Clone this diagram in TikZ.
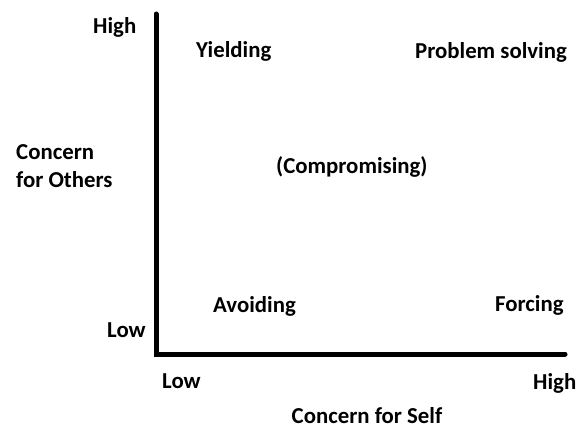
\documentclass[tikz,border=0pt]{standalone}
\usepackage{fontspec}
\setmainfont{Carlito}
\begin{document}
\begin{tikzpicture}[x=1pt,y=-1pt,
  lbl/.style={font=\fontsize{22.8}{27}\selectfont\bfseries, inner sep=0pt, anchor=base west, text=black},
  axis/.style={line width=5pt, line cap=round, line join=miter}]
\useasboundingbox (0,0) rectangle (577,428);
\coordinate (top) at (156,14);
\coordinate (origin) at (156,354);
\coordinate (right) at (565,354);
\draw[axis] (top) -- (origin) -- (right);
\node[lbl] (yhigh) at (93,34) {High};
\node[lbl] (ylow) at (107,337) {Low};
\node[lbl] (xlow) at (162,388) {Low};
\node[lbl] (xhigh) at (533,389) {High};
\node[lbl] (yield) at (196,57) {Yielding};
\node[lbl] (prob) at (415,59) {Problem solving};
\node[lbl] (comp) at (276,173) {(Compromising)};
\node[lbl] (avoid) at (213,312) {Avoiding};
\node[lbl] (force) at (495,311) {Forcing};
\node[lbl] (cfo1) at (16,159) {Concern};
\node[lbl] (cfo2) at (16,187) {for Others};
\node[lbl, anchor=base] (cfs) at (367,423) {Concern for Self};
\end{tikzpicture}
\end{document}
